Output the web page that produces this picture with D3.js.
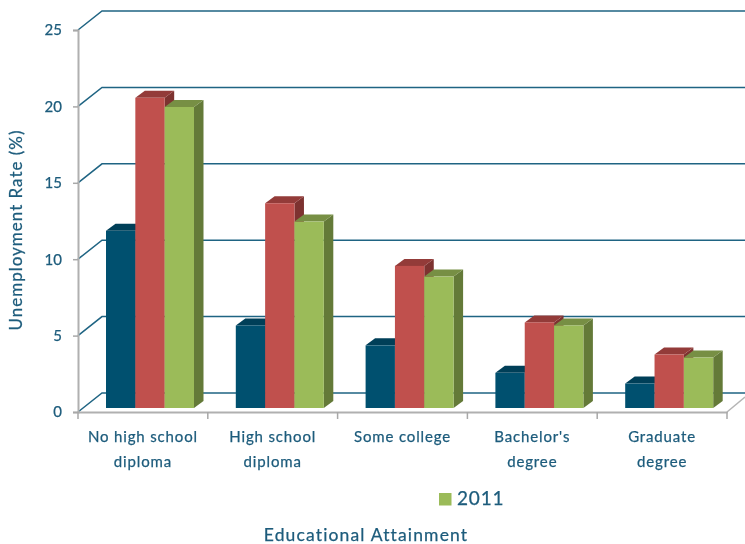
<!DOCTYPE html>
<html><head><meta charset="utf-8">
<script src="https://cdn.jsdelivr.net/npm/d3@7"></script>
<style>html,body{margin:0;background:#fff}svg{display:block;filter:blur(0.45px)}text{font-family:Lato,"Open Sans",sans-serif;fill:#1d5c7c;stroke:#1d5c7c;stroke-width:0.25px}</style>
</head><body><svg id="c" width="745" height="544"></svg>
<script>
const categories=["No high school diploma","High school diploma","Some college","Bachelor's degree","Graduate degree"];
const categoryLines=[["No high school","diploma"],["High school","diploma"],["Some college"],["Bachelor's","degree"],["Graduate","degree"]];
const seriesKeys=["first","second","2011"];
const seriesFirst=[11.6,5.4,4.1,2.3,1.6];
const seriesSecond=[20.3,13.4,9.3,5.6,3.5];
const series2011=[19.7,12.2,8.6,5.4,3.3];
const yTicks=[0,5,10,15,20,25];
const allSeries=[seriesFirst,seriesSecond,series2011];
const front=["#00506f","#c0504d","#9bbb59"];
const topC=["#003f58","#933b39","#778f44"];
const side=["#003448","#7d3230","#647a38"];

const svg=d3.select("#c");
const x=d3.scaleBand().domain(categories).range([78,727]).padding(0);
const y=d3.scaleLinear().domain([0,25]).range([412,30]);
const inner=d3.scaleBand().domain(seriesKeys).range([28,116]);
const depthX=24,depthY=19,barDX=9.5,barDY=7,barLift=4;

// gridlines on the back wall
svg.append("g").selectAll("path").data(yTicks).join("path")
 .attr("d",v=>d3.line()([[x.range()[0],y(v)],[x.range()[0]+depthX,y(v)-depthY],[745,y(v)-depthY]]))
 .attr("fill","none").attr("stroke","#1f6483").attr("stroke-width",1.5);

// floor edge
svg.append("path").attr("d",d3.line()([[727,412],[745,397]])).attr("fill","none").attr("stroke","#b5b5b5").attr("stroke-width",1.5);

// axes
const gy=svg.append("g").attr("transform","translate(78,0)")
 .call(d3.axisLeft(y).tickValues(yTicks).tickSize(5).tickPadding(11));
const gx=svg.append("g").attr("transform","translate(0,412)")
 .call(d3.axisBottom(x).tickSize(0).tickFormat(""));
gx.selectAll(".tick").remove();
gx.selectAll("line.t").data(d3.range(categories.length+1)).join("line").attr("class","t")
 .attr("x1",i=>x.range()[0]+i*x.bandwidth()).attr("x2",i=>x.range()[0]+i*x.bandwidth()).attr("y1",0).attr("y2",7);
[gy,gx].forEach(g=>{g.selectAll("path.domain").attr("stroke","#b0b0b0").attr("stroke-width",2);
 g.selectAll("line").attr("stroke","#a8a8a8").attr("stroke-width",1.5);});
gy.selectAll("text").attr("font-size",15).style("fill","#1d5c7c").attr("dy","0.32em");

// bars
categories.forEach((c,ci)=>{
 const g=svg.append("g").attr("transform",`translate(${x(c)},0)`);
 seriesKeys.forEach((k,si)=>{
  const v=allSeries[si][ci];
  const x0=inner(k),w=inner.bandwidth(),yt=y(v)-barLift,yb=y(0)-barLift;
  g.append("path").attr("fill",side[si]).attr("d",d3.line()([[x0+w,yt],[x0+w+barDX,yt-barDY],[x0+w+barDX,yb-barDY],[x0+w,yb]]));
  g.append("path").attr("fill",topC[si]).attr("d",d3.line()([[x0,yt],[x0+barDX,yt-barDY],[x0+w+barDX,yt-barDY],[x0+w,yt]]));
  g.append("rect").attr("x",x0).attr("y",yt).attr("width",w).attr("height",yb-yt).attr("fill",front[si]);
 });
 const label=svg.append("text").attr("text-anchor","middle").attr("font-size",15).attr("letter-spacing",0.85);
 categoryLines[ci].forEach((t,li)=>label.append("tspan").attr("x",x(c)+x.bandwidth()/2).attr("y",442+li*25).text(t));
});

// legend
svg.append("rect").attr("x",439).attr("y",493).attr("width",12.5).attr("height",12.5).attr("fill",front[2]);
svg.append("text").attr("x",457).attr("y",505).attr("font-size",19).attr("letter-spacing",0.8).text(seriesKeys[2]);

// titles
svg.append("text").attr("x",366).attr("y",541).attr("text-anchor","middle").attr("font-size",17.5).attr("letter-spacing",1.15).text("Educational Attainment");
svg.append("text").attr("transform","translate(22,230) rotate(-90)").attr("text-anchor","middle").attr("font-size",17).attr("letter-spacing",1).text("Unemployment Rate (%)");
</script></body></html>
